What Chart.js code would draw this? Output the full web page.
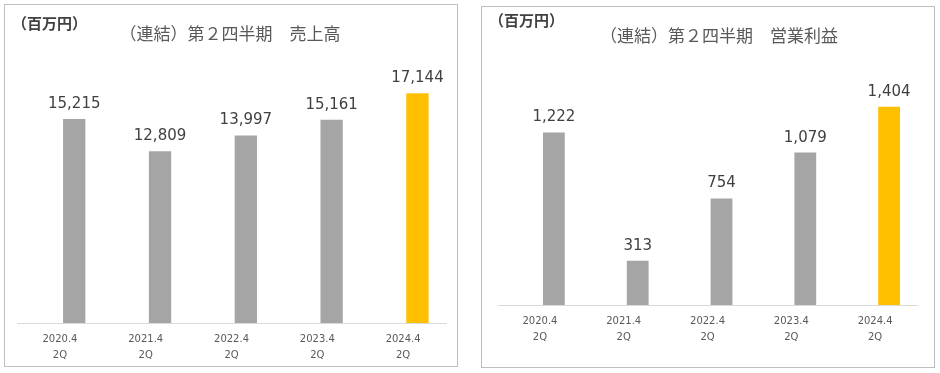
<!DOCTYPE html>
<html>
<head>
<meta charset="utf-8">
<script src="https://cdn.jsdelivr.net/npm/chart.js@4"></script>
<style>
  body { margin: 0; background: #fff; width: 940px; height: 373px; position: relative; overflow: hidden; }
  .panel { position: absolute; border: 1px solid #bfbfbf; background: #fff; }
  .title { position: absolute; font-family: "Noto Sans CJK JP", sans-serif; font-size: 17px; color: #595959; white-space: pre; text-align: center; line-height: 20px; }
  .unit { position: absolute; font-family: "Noto Sans CJK JP", sans-serif; font-size: 15px; font-weight: bold; color: #404040; line-height: 16px; white-space: pre; }
</style>
</head>
<body>
<div class="panel" style="left:4px; top:4px; width:452px; height:361px;"><canvas id="salesChart"></canvas></div>
<div class="panel" style="left:481px; top:6px; width:452px; height:360px;"><canvas id="profitChart"></canvas></div>
<div class="unit" style="left:12px; top:15px;">（百万円）</div>
<div class="title" style="left:80px; width:300px; top:23px;">（連結）第２四半期　売上高</div>
<div class="unit" style="left:489px; top:12px;">（百万円）</div>
<div class="title" style="left:569px; width:300px; top:25px;">（連結）第２四半期　営業利益</div>
<script>
const categories = [["2020.4", "2Q"], ["2021.4", "2Q"], ["2022.4", "2Q"], ["2023.4", "2Q"], ["2024.4", "2Q"]];
const salesValues = [15215, 12809, 13997, 15161, 17144];
const profitValues = [1222, 313, 754, 1079, 1404];
const barColors = ["#a5a5a5", "#a5a5a5", "#a5a5a5", "#a5a5a5", "#ffc000"];

// value labels above each bar
const valueLabels = {
    id: "valueLabels",
    afterDatasetsDraw(chart) {
        const c = chart.ctx;
        c.save();
        c.font = "15px 'DejaVu Sans'";
        c.fillStyle = "#404040";
        c.textAlign = "center";
        c.textBaseline = "alphabetic";
        chart.getDatasetMeta(0).data.forEach((bar, i) => {
            const v = chart.data.datasets[0].data[i].y;
            c.fillText(v.toLocaleString("en-US"), bar.x, bar.y - 11);
        });
        c.restore();
    },
};

function makeChart(id, values, yMax, pad) {
    return new Chart(document.getElementById(id), {
        type: "bar",
        data: {
            datasets: [{
                data: values.map((v, i) => ({ x: i, y: v })),
                backgroundColor: barColors,
                categoryPercentage: 1,
                barPercentage: 0.26,
            }],
        },
        options: {
            responsive: true,
            maintainAspectRatio: false,
            animation: false,
            layout: { padding: pad },
            plugins: { legend: { display: false }, tooltip: { enabled: false } },
            scales: {
                x: {
                    type: "linear",
                    offset: false,
                    // in the original the bars sit 1/6 of a slot right of the label centre
                    min: -0.667,
                    max: 4.333,
                    grid: { display: false, drawTicks: false },
                    border: { display: true, color: "#d9d9d9", width: 1 },
                    afterBuildTicks: (scale) => {
                        scale.ticks = categories.map((c, i) => ({ value: i - 1 / 6 }));
                    },
                    afterFit: (scale) => { scale.height = 40; },
                    ticks: {
                        autoSkip: false,
                        maxRotation: 0,
                        padding: 8,
                        color: "#595959",
                        font: { family: "DejaVu Sans", size: 10, lineHeight: 1.6 },
                        callback: (v) => categories[Math.round(v)],
                    },
                },
                y: { display: false, min: 0, max: yMax },
            },
        },
        plugins: [valueLabels],
    });
}

makeChart("salesChart", salesValues, 20000, { left: 12, right: 11, top: 50, bottom: 3 });
makeChart("profitChart", profitValues, 1600, { left: 16, right: 17, top: 72, bottom: 22 });
</script>
</body>
</html>
